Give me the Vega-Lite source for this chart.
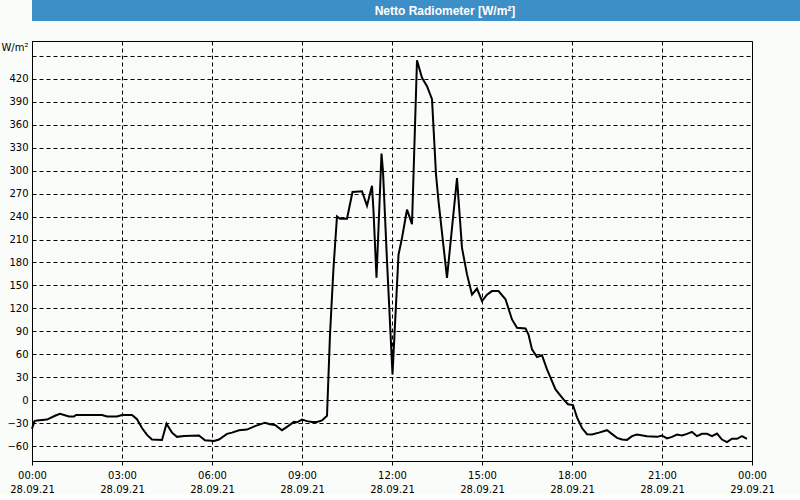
{
  "$schema": "https://vega.github.io/schema/vega-lite/v6.json",
  "padding": 0,
  "background": "#fafcfa",
  "spacing": 19,
  "config": {
    "font": "DejaVu Sans",
    "axis": {"labelFont": "DejaVu Sans", "labelFontSize": 10, "labelColor": "#000000", "titleColor": "#000000"}
  },
  "vconcat": [
    {
      "width": 800,
      "height": 21,
      "view": {"fill": "#3d8fc7", "strokeWidth": 0},
      "data": {"values": [{"t": "Netto Radiometer [W/m²]"}]},
      "mark": {"type": "text", "font": "Liberation Sans", "fontSize": 12, "fontWeight": "bold", "color": "#ffffff", "dx": 13, "baseline": "middle"},
      "encoding": {"text": {"field": "t"}}
    },
    {
      "width": 720,
      "height": 420,
      "view": {"stroke": "#000000", "strokeWidth": 1},
      "data": {"values": [
        {"t": "2021-09-28T00:00", "v": -37},
        {"t": "2021-09-28T00:05", "v": -27},
        {"t": "2021-09-28T00:10", "v": -26},
        {"t": "2021-09-28T00:30", "v": -25},
        {"t": "2021-09-28T00:46", "v": -20},
        {"t": "2021-09-28T00:56", "v": -17.5},
        {"t": "2021-09-28T01:14", "v": -21},
        {"t": "2021-09-28T01:24", "v": -21},
        {"t": "2021-09-28T01:28", "v": -19},
        {"t": "2021-09-28T02:20", "v": -19},
        {"t": "2021-09-28T02:30", "v": -21},
        {"t": "2021-09-28T02:50", "v": -21},
        {"t": "2021-09-28T03:00", "v": -19},
        {"t": "2021-09-28T03:20", "v": -19},
        {"t": "2021-09-28T03:30", "v": -24.5},
        {"t": "2021-09-28T03:40", "v": -36},
        {"t": "2021-09-28T03:50", "v": -45},
        {"t": "2021-09-28T04:00", "v": -51},
        {"t": "2021-09-28T04:20", "v": -51.5},
        {"t": "2021-09-28T04:29", "v": -30.5},
        {"t": "2021-09-28T04:40", "v": -42},
        {"t": "2021-09-28T04:50", "v": -47.5},
        {"t": "2021-09-28T05:04", "v": -46.5},
        {"t": "2021-09-28T05:34", "v": -45.7},
        {"t": "2021-09-28T05:46", "v": -52},
        {"t": "2021-09-28T06:04", "v": -53},
        {"t": "2021-09-28T06:14", "v": -51},
        {"t": "2021-09-28T06:30", "v": -43.6},
        {"t": "2021-09-28T06:40", "v": -42},
        {"t": "2021-09-28T06:54", "v": -39},
        {"t": "2021-09-28T07:10", "v": -38},
        {"t": "2021-09-28T07:26", "v": -33.5},
        {"t": "2021-09-28T07:46", "v": -29},
        {"t": "2021-09-28T07:56", "v": -31},
        {"t": "2021-09-28T08:06", "v": -32},
        {"t": "2021-09-28T08:20", "v": -38.8},
        {"t": "2021-09-28T08:30", "v": -34.5},
        {"t": "2021-09-28T08:44", "v": -28},
        {"t": "2021-09-28T08:50", "v": -28.5},
        {"t": "2021-09-28T09:00", "v": -25},
        {"t": "2021-09-28T09:10", "v": -27},
        {"t": "2021-09-28T09:20", "v": -28},
        {"t": "2021-09-28T09:30", "v": -28},
        {"t": "2021-09-28T09:40", "v": -26},
        {"t": "2021-09-28T09:50", "v": -20},
        {"t": "2021-09-28T09:56", "v": 86},
        {"t": "2021-09-28T10:03", "v": 173},
        {"t": "2021-09-28T10:10", "v": 240},
        {"t": "2021-09-28T10:16", "v": 237},
        {"t": "2021-09-28T10:30", "v": 237},
        {"t": "2021-09-28T10:41", "v": 272},
        {"t": "2021-09-28T11:00", "v": 273},
        {"t": "2021-09-28T11:10", "v": 254},
        {"t": "2021-09-28T11:20", "v": 280},
        {"t": "2021-09-28T11:23", "v": 247},
        {"t": "2021-09-28T11:29", "v": 160},
        {"t": "2021-09-28T11:39", "v": 322},
        {"t": "2021-09-28T11:42", "v": 299},
        {"t": "2021-09-28T11:50", "v": 182},
        {"t": "2021-09-28T12:01", "v": 34},
        {"t": "2021-09-28T12:13", "v": 190},
        {"t": "2021-09-28T12:20", "v": 212},
        {"t": "2021-09-28T12:30", "v": 249},
        {"t": "2021-09-28T12:40", "v": 230},
        {"t": "2021-09-28T12:50", "v": 444},
        {"t": "2021-09-28T13:00", "v": 421},
        {"t": "2021-09-28T13:10", "v": 410},
        {"t": "2021-09-28T13:20", "v": 393},
        {"t": "2021-09-28T13:28", "v": 295},
        {"t": "2021-09-28T13:33", "v": 260},
        {"t": "2021-09-28T13:50", "v": 160},
        {"t": "2021-09-28T14:10", "v": 290},
        {"t": "2021-09-28T14:20", "v": 199},
        {"t": "2021-09-28T14:30", "v": 164.5},
        {"t": "2021-09-28T14:40", "v": 138},
        {"t": "2021-09-28T14:50", "v": 146},
        {"t": "2021-09-28T15:00", "v": 129.6},
        {"t": "2021-09-28T15:10", "v": 138},
        {"t": "2021-09-28T15:20", "v": 142.7},
        {"t": "2021-09-28T15:33", "v": 142.7},
        {"t": "2021-09-28T15:47", "v": 132},
        {"t": "2021-09-28T16:00", "v": 105.7},
        {"t": "2021-09-28T16:10", "v": 94.8},
        {"t": "2021-09-28T16:27", "v": 94},
        {"t": "2021-09-28T16:33", "v": 86},
        {"t": "2021-09-28T16:40", "v": 66.6},
        {"t": "2021-09-28T16:50", "v": 56.5},
        {"t": "2021-09-28T17:00", "v": 59},
        {"t": "2021-09-28T17:10", "v": 40.5},
        {"t": "2021-09-28T17:27", "v": 14.4},
        {"t": "2021-09-28T17:43", "v": 1.3},
        {"t": "2021-09-28T17:52", "v": -5},
        {"t": "2021-09-28T18:02", "v": -6},
        {"t": "2021-09-28T18:10", "v": -22},
        {"t": "2021-09-28T18:20", "v": -36},
        {"t": "2021-09-28T18:30", "v": -44},
        {"t": "2021-09-28T18:40", "v": -44.5},
        {"t": "2021-09-28T18:54", "v": -42},
        {"t": "2021-09-28T19:10", "v": -38.8},
        {"t": "2021-09-28T19:30", "v": -48.8},
        {"t": "2021-09-28T19:40", "v": -51},
        {"t": "2021-09-28T19:50", "v": -51.5},
        {"t": "2021-09-28T20:00", "v": -46.6},
        {"t": "2021-09-28T20:10", "v": -44.5},
        {"t": "2021-09-28T20:30", "v": -46.6},
        {"t": "2021-09-28T20:50", "v": -47.5},
        {"t": "2021-09-28T21:00", "v": -45.7},
        {"t": "2021-09-28T21:10", "v": -49.6},
        {"t": "2021-09-28T21:20", "v": -47.5},
        {"t": "2021-09-28T21:30", "v": -44.5},
        {"t": "2021-09-28T21:40", "v": -45.7},
        {"t": "2021-09-28T21:50", "v": -43.6},
        {"t": "2021-09-28T22:00", "v": -41},
        {"t": "2021-09-28T22:10", "v": -46.6},
        {"t": "2021-09-28T22:20", "v": -43.6},
        {"t": "2021-09-28T22:30", "v": -43.6},
        {"t": "2021-09-28T22:40", "v": -46.6},
        {"t": "2021-09-28T22:50", "v": -43.2},
        {"t": "2021-09-28T23:00", "v": -51},
        {"t": "2021-09-28T23:10", "v": -54.4},
        {"t": "2021-09-28T23:20", "v": -50},
        {"t": "2021-09-28T23:30", "v": -50},
        {"t": "2021-09-28T23:40", "v": -46.6},
        {"t": "2021-09-28T23:50", "v": -50}
      ]},
      "mark": {"type": "line", "color": "#000000", "strokeWidth": 2},
      "encoding": {
        "x": {
          "field": "t", "type": "temporal",
          "scale": {"domain": ["2021-09-28T00:00", "2021-09-29T00:00"], "nice": false},
          "axis": {
            "title": null,
            "values": ["2021-09-28T00:00", "2021-09-28T03:00", "2021-09-28T06:00", "2021-09-28T09:00", "2021-09-28T12:00", "2021-09-28T15:00", "2021-09-28T18:00", "2021-09-28T21:00", "2021-09-29T00:00"],
            "labelExpr": "[timeFormat(datum.value, '%H:%M'), timeFormat(datum.value, '%d.%m.%y')]",
            "labelOverlap": false,
            "labelFlush": false,
            "labelBound": false,
            "labelLineHeight": 14,
            "labelPadding": 5,
            "labelBaseline": "top",
            "tickSize": 4,
            "tickColor": "#000000",
            "domainColor": "#000000",
            "grid": true,
            "gridColor": "#000000",
            "gridDash": [4, 3]
          }
        },
        "y": {
          "field": "v", "type": "quantitative",
          "scale": {"domain": [-79, 469], "nice": false, "zero": false},
          "axis": {
            "title": "W/m²",
            "titleAngle": 0,
            "titleAlign": "right",
            "titleBaseline": "middle",
            "titleX": -4,
            "titleY": 6,
            "titleFont": "DejaVu Sans",
            "titleFontSize": 10,
            "titleFontWeight": "normal",
            "values": [-60, -30, 0, 30, 60, 90, 120, 150, 180, 210, 240, 270, 300, 330, 360, 390, 420, 450],
            "labelExpr": "datum.value == 450 ? '' : datum.label",
            "ticks": false,
            "labelPadding": 4,
            "domainColor": "#000000",
            "grid": true,
            "gridColor": "#000000",
            "gridDash": [4, 3]
          }
        }
      }
    }
  ]
}
